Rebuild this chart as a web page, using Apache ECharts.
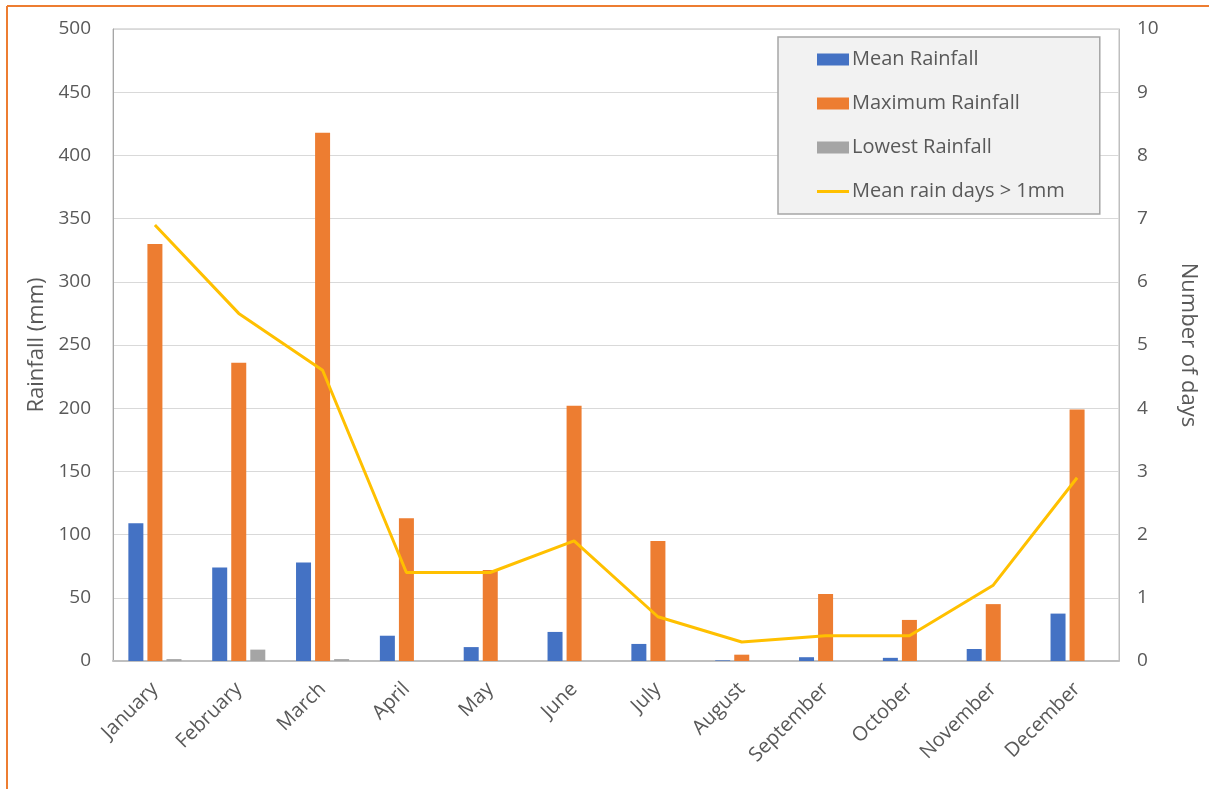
<!DOCTYPE html>
<html><head><meta charset="utf-8">
<script src="https://cdn.jsdelivr.net/npm/echarts@6/dist/echarts.min.js"></script>
<style>html,body{margin:0;padding:0;background:#fff}#c{width:1209px;height:789px}</style>
</head><body><div id="c"></div>
<script>
const months = ['January','February','March','April','May','June','July','August','September','October','November','December'];
const meanRainfall = [109, 74, 78, 20, 11, 23, 13.5, 0.5, 3, 2.5, 9.5, 37.5];
const maxRainfall = [330, 236, 418, 113, 72, 202, 95, 5, 53, 32.5, 45, 199];
const lowestRainfall = [1.5, 9, 1.5, 0, 0, 0, 0, 0, 0, 0, 0, 0];
const rainDays = [6.9, 5.5, 4.6, 1.4, 1.4, 1.9, 0.7, 0.3, 0.4, 0.4, 1.2, 2.9];

const FONT = '"Open Sans", sans-serif';
const TXT = '#595959';
const LINE_ICON = 'path://M0,0 L0.01,0 L0.01,0.01 Z M0,4.5 L32,4.5 L32,7.5 L0,7.5 Z M31.99,12 L32,12 L32,11.99 Z';
const chart = echarts.init(document.getElementById('c'), null, {renderer:'canvas'});
chart.setOption({
  animation:false,
  backgroundColor:'#fff',
  textStyle:{fontFamily:FONT},
  graphic:[
    {type:'line', shape:{x1:7,y1:6,x2:1209,y2:6}, style:{stroke:'#ed7d31', lineWidth:2}},
    {type:'line', shape:{x1:7,y1:6,x2:7,y2:789}, style:{stroke:'#ed7d31', lineWidth:2}}
  ],
  grid:{left:113, top:29, right:90, bottom:128, show:true, borderColor:'#bfbfbf', borderWidth:1, outerBoundsMode:'none', containLabel:false},
  legend:{
    left:778, top:37, orient:'vertical',
    backgroundColor:'#f2f2f2', borderColor:'#a6a6a6', borderWidth:1.5,
    padding:[12,35,12,39], itemGap:23, itemWidth:32, itemHeight:12,
    textStyle:{color:TXT, fontSize:20, fontFamily:FONT, lineHeight:20, padding:[1,0,0,-2]},
    data:[
      {name:'Mean Rainfall', icon:'rect'},
      {name:'Maximum Rainfall', icon:'rect'},
      {name:'Lowest Rainfall', icon:'rect'},
      {name:'Mean rain days > 1mm', icon:LINE_ICON}
    ]
  },
  xAxis:{
    type:'category', data:months,
    axisLine:{lineStyle:{color:'#bfbfbf', width:2}},
    axisTick:{show:false},
    axisLabel:{rotate:45, color:TXT, fontSize:20, margin:25, interval:0}
  },
  yAxis:[
    {type:'value', min:0, max:500, interval:50,
     name:'Rainfall (mm)', nameLocation:'middle', nameGap:64,
     nameTextStyle:{color:TXT, fontSize:22},
     axisLine:{show:true, lineStyle:{color:'#a6a6a6'}},
     axisLabel:{color:TXT, fontSize:19, margin:22},
     splitLine:{lineStyle:{color:'#d9d9d9', width:1}}},
    {type:'value', min:0, max:10, interval:1,
     name:'Number of days', nameLocation:'middle', nameGap:58, nameRotate:-90,
     nameTextStyle:{color:TXT, fontSize:22},
     axisLine:{show:true, lineStyle:{color:'#bfbfbf'}},
     axisLabel:{color:TXT, fontSize:19, margin:18},
     splitLine:{show:false}}
  ],
  series:[
    {name:'Mean Rainfall', type:'bar', data:meanRainfall, barWidth:15, barGap:'27%',
     itemStyle:{color:'#4472c4'}},
    {name:'Maximum Rainfall', type:'bar', data:maxRainfall, barWidth:15, barGap:'27%',
     itemStyle:{color:'#ed7d31'}},
    {name:'Lowest Rainfall', type:'bar', data:lowestRainfall, barWidth:15, barGap:'27%',
     itemStyle:{color:'#a5a5a5'}},
    {name:'Mean rain days > 1mm', type:'line', yAxisIndex:1, data:rainDays,
     symbol:'none', lineStyle:{color:'#ffc000', width:3}, itemStyle:{color:'#ffc000'}}
  ]
});
</script></body></html>
